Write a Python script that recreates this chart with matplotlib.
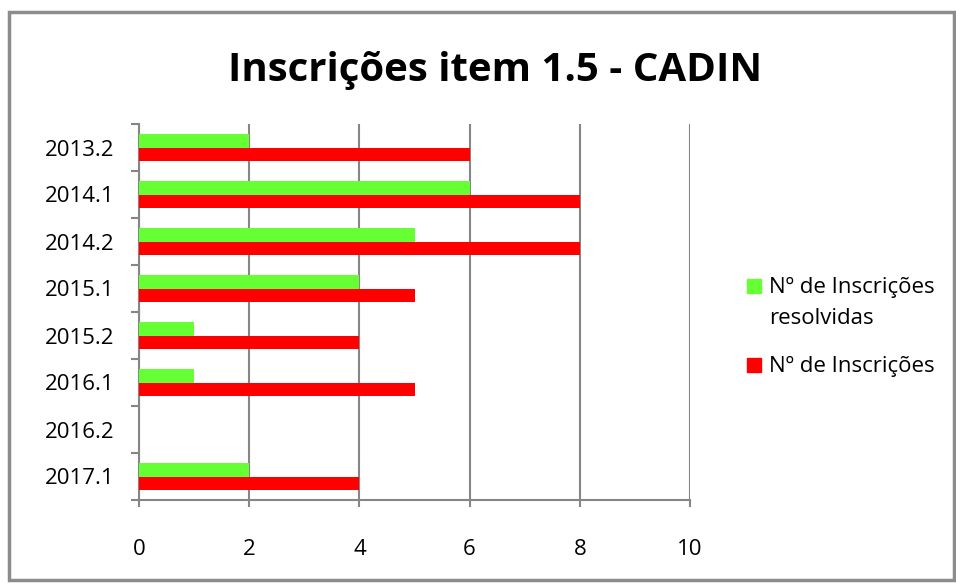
import matplotlib.pyplot as plt
import numpy as np
from matplotlib.patches import Rectangle

periodos = ['2013.2', '2014.1', '2014.2', '2015.1', '2015.2', '2016.1', '2016.2', '2017.1']
resolvidas = [2, 6, 5, 4, 1, 1, 0, 2]
inscricoes = [6, 8, 8, 5, 4, 5, 0, 4]

plt.rcParams['font.family'] = ['Open Sans', 'DejaVu Sans']

verde = '#66ff33'
vermelho = '#ff0000'
cinza = '#868686'

W, H = 956, 583
fig = plt.figure(figsize=(W/100, H/100), dpi=100)
fig.patches.append(Rectangle((9/W, 1 - 580/H), 945/W, 568/H, transform=fig.transFigure,
                             fill=False, edgecolor='#8c8c8c', linewidth=2.5))
ax = fig.add_axes([139/W, 1 - 500/H, (690 - 139)/W, (500 - 124)/H])

y = np.arange(len(periodos))
h = 0.29
ax.barh(y - h/2, resolvidas, height=h, color=verde, zorder=3)
ax.barh(y + h/2, inscricoes, height=h, color=vermelho, zorder=3)

ax.set_ylim(len(periodos) - 0.5, -0.5)
ax.set_xlim(0, 10)
ax.set_xticks([0, 2, 4, 6, 8, 10])
ax.set_yticks(y)
ax.set_yticklabels(periodos)
ax.set_yticks(np.arange(-0.5, len(periodos)), minor=True)
ax.tick_params(axis='y', which='major', length=0, pad=18, labelsize=16)
ax.tick_params(axis='y', which='minor', length=6, color=cinza, width=1.5)
ax.tick_params(axis='x', length=5, color=cinza, width=1.5, pad=23, labelsize=16)
ax.grid(axis='x', color=cinza, linewidth=1.5, zorder=0)
for s in ['top', 'right']:
    ax.spines[s].set_visible(False)
for s in ['left', 'bottom']:
    ax.spines[s].set_color(cinza)
    ax.spines[s].set_linewidth(1.5)

fig.text(495/W, 1 - 70/H, 'Inscrições item 1.5 - CADIN', ha='center', va='center',
         fontsize=29, fontweight='bold')

# legenda desenhada à mão (quadrado alinhado com a primeira linha)
legenda = [(verde, ['Nº de Inscrições', 'resolvidas'], 279), (vermelho, ['Nº de Inscrições'], 358)]
for cor, linhas, topo in legenda:
    fig.patches.append(Rectangle((747/W, 1 - (topo + 14)/H), 14/W, 14/H,
                                 transform=fig.transFigure, color=cor))
    for k, txt in enumerate(linhas):
        fig.text(769/W, 1 - (topo + 14 + 31*k)/H, txt, fontsize=16, va='baseline', ha='left')

fig.savefig('out.png', dpi=100)
